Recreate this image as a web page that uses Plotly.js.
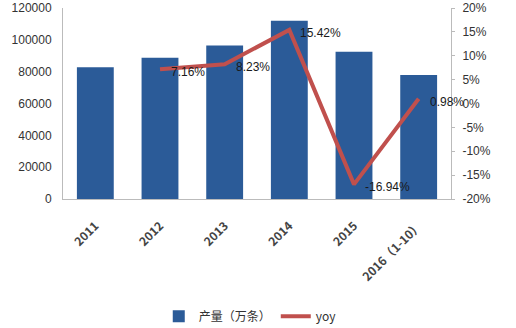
<!DOCTYPE html>
<html>
<head>
<meta charset="utf-8">
<script src="https://cdn.plot.ly/plotly-3.0.1.min.js"></script>
<style>html,body{margin:0;padding:0;background:#fff;}#chart{width:516px;height:328px;}</style>
</head>
<body>
<div id="chart"></div>
<script>
const categories = ["2011", "2012", "2013", "2014", "2015", "2016（1-10）"];
const output = [82800, 88800, 96500, 112000, 92500, 77900];
const yoyCategories = ["2012", "2013", "2014", "2015", "2016（1-10）"];
const yoy = [7.16, 8.23, 15.42, -16.94, 0.98];
const yoyLabels = ["7.16%", "8.23%", "15.42%", "-16.94%", "0.98%"];
const leftTicks = [0, 20000, 40000, 60000, 80000, 100000, 120000];
const rightTicks = [-20, -15, -10, -5, 0, 5, 10, 15, 20];
const rightTickText = ["-20%", "-15%", "-10%", "-5%", "0%", "5%", "10%", "15%", "20%"];

const font = "Liberation Sans, Arial, sans-serif";
const data = [
  {
    type: "bar", x: categories, y: output, name: "产量（万条）",
    marker: {color: "#2B5B98"}, hoverinfo: "none"
  },
  {
    type: "scatter", mode: "lines", x: yoyCategories, y: yoy, yaxis: "y2",
    name: "yoy", line: {color: "#C0504D", width: 4}, hoverinfo: "none"
  }
];
const annotations = yoyCategories.map((c, i) => ({
  x: categories.indexOf(c), y: yoy[i], xref: "x", yref: "y2", text: yoyLabels[i],
  showarrow: false, xanchor: "left", yanchor: "middle", xshift: 9, yshift: -3,
  font: {family: font, size: 12, color: "#1a1a1a"}
}));
const layout = {
  width: 516, height: 328,
  margin: {l: 63, r: 65, t: 8, b: 129},
  paper_bgcolor: "#fff", plot_bgcolor: "#fff",
  font: {family: font, size: 12, color: "#333"},
  bargap: 0.43,
  showlegend: true,
  legend: {orientation: "h", x: 0.485, xanchor: "center", xref: "container",
           y: 0.036, yanchor: "middle", yref: "container",
           font: {family: "Noto Sans CJK SC, " + font, size: 12, color: "#333"}},
  annotations: annotations,
  xaxis: {
    type: "category", categoryorder: "array", categoryarray: categories,
    range: [-0.5, categories.length - 0.5],
    tickangle: -45, showline: true, linecolor: "#bbb", linewidth: 1,
    ticks: "", showgrid: false, automargin: false, ticklabelstandoff: 14,
    tickfont: {family: "Noto Sans CJK SC, " + font, size: 12, color: "#444", weight: "bold"}
  },
  yaxis: {
    range: [0, 120000], tickvals: leftTicks, ticktext: leftTicks.map(String),
    showline: true, linecolor: "#bbb", linewidth: 1, showgrid: false, zeroline: false,
    ticks: "", automargin: false, ticklabelstandoff: 8,
    tickfont: {family: font, size: 12, color: "#333"}
  },
  yaxis2: {
    overlaying: "y", side: "right", range: [-20, 20],
    tickvals: rightTicks, ticktext: rightTickText,
    showline: true, linecolor: "#bbb", linewidth: 1, showgrid: false, zeroline: false,
    ticks: "outside", ticklen: 3, tickcolor: "#bbb", automargin: false, ticklabelstandoff: 5,
    tickfont: {family: font, size: 12, color: "#333"}
  }
};
Plotly.newPlot("chart", data, layout, {displayModeBar: false, staticPlot: true});
</script>
</body>
</html>
